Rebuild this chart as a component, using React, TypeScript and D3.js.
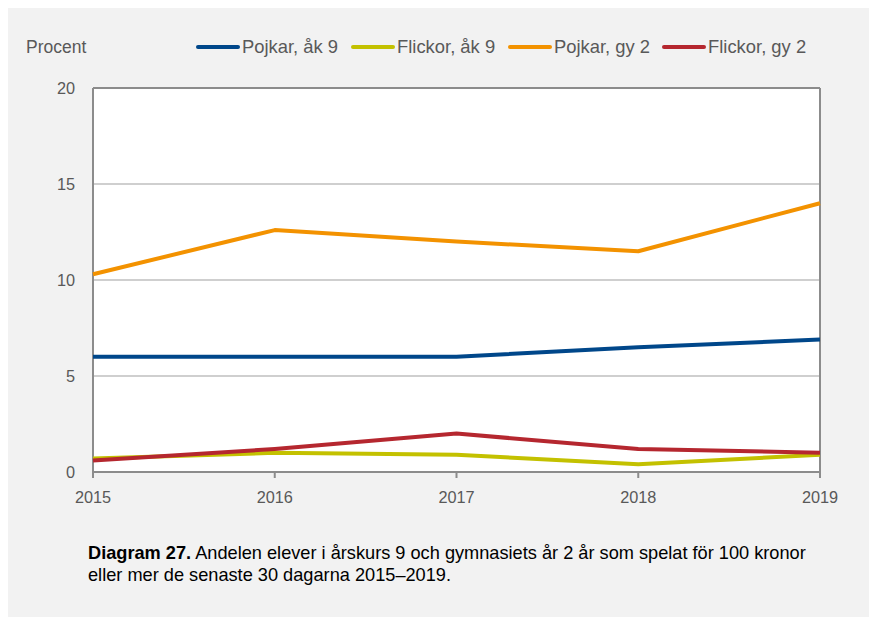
import React from "react";
import * as d3 from "d3";

const years = [2015, 2016, 2017, 2018, 2019];
const yTicks = [0, 5, 10, 15, 20];
const pojkarAk9 = [6.0, 6.0, 6.0, 6.5, 6.9];
const flickorAk9 = [0.7, 1.0, 0.9, 0.4, 0.9];
const pojkarGy2 = [10.3, 12.6, 12.0, 11.5, 14.0];
const flickorGy2 = [0.6, 1.2, 2.0, 1.2, 1.0];
const seriesNames = ["Pojkar, åk 9", "Flickor, åk 9", "Pojkar, gy 2", "Flickor, gy 2"];
const seriesColors = ["#00478a", "#c3c100", "#f39200", "#b5272f"];
const seriesValues = [pojkarAk9, flickorAk9, pojkarGy2, flickorGy2];
const drawOrder = [0, 1, 2, 3];
const legendX = [198, 353, 510, 664];

export default function App() {
  const left = 93, right = 820, top = 88, bottom = 472;
  const x = d3.scaleLinear().domain([2015, 2019]).range([left, right]);
  const y = d3.scaleLinear().domain([0, 20]).range([bottom, top]);
  const line = d3
    .line<number>()
    .x((_, i) => x(years[i]))
    .y((d) => y(d));
  const font = "Liberation Sans, Arial, sans-serif";
  return (
    <svg
      width={869}
      height={617}
      style={{ position: "absolute", left: 0, top: 0 }}
      fontFamily={font}
    >
      <rect x={0} y={0} width={869} height={617} fill="#ffffff" />
      <rect x={8} y={8} width={861} height={609} fill="#f2f2f2" />
      <rect x={left} y={top} width={right - left} height={bottom - top} fill="#ffffff" />
      {yTicks.slice(1, -1).map((t) => (
        <line key={t} x1={left} x2={right} y1={y(t)} y2={y(t)} stroke="#bfbfbf" strokeWidth={1.5} />
      ))}
      <line x1={left} x2={right} y1={top} y2={top} stroke="#8c8c8c" strokeWidth={2} />
      <line x1={right} x2={right} y1={top} y2={bottom + 6} stroke="#8c8c8c" strokeWidth={2} />
      <line x1={left} x2={left} y1={top} y2={bottom + 6} stroke="#8c8c8c" strokeWidth={2} />
      <line x1={left} x2={right} y1={bottom} y2={bottom} stroke="#8c8c8c" strokeWidth={2} />
      {years.map((yr) => (
        <line key={yr} x1={x(yr)} x2={x(yr)} y1={bottom} y2={bottom + 6} stroke="#8c8c8c" strokeWidth={2} />
      ))}
      {yTicks.map((t) => (
        <text key={t} x={75} y={y(t)} dy="0.36em" textAnchor="end" fontSize={16.3} fill="#595959">
          {t}
        </text>
      ))}
      {years.map((yr) => (
        <text key={yr} x={x(yr)} y={497.5} dy="0.36em" textAnchor="middle" fontSize={16.3} fill="#595959">
          {yr}
        </text>
      ))}
      {drawOrder.map((i) => (
        <path
          key={i}
          d={line(seriesValues[i]) || ""}
          fill="none"
          stroke={seriesColors[i]}
          strokeWidth={4}
          strokeLinejoin="round"
        />
      ))}
      <text x={26} y={53} fontSize={17.5} fill="#595959">
        Procent
      </text>
      {seriesNames.map((n, i) => (
        <g key={n}>
          <line
            x1={legendX[i]}
            x2={legendX[i] + 40}
            y1={47}
            y2={47}
            stroke={seriesColors[i]}
            strokeWidth={4}
            strokeLinecap="round"
          />
          <text x={legendX[i] + 44} y={53} fontSize={18.4} fill="#595959">
            {n}
          </text>
        </g>
      ))}
      <text x={88} y={559} fontSize={18.2} fill="#000000">
        <tspan fontWeight="bold">Diagram 27.</tspan>
        <tspan> Andelen elever i årskurs 9 och gymnasiets år 2 år som spelat för 100 kronor</tspan>
      </text>
      <text x={88} y={581} fontSize={18.2} fill="#000000">
        eller mer de senaste 30 dagarna 2015–2019.
      </text>
    </svg>
  );
}
